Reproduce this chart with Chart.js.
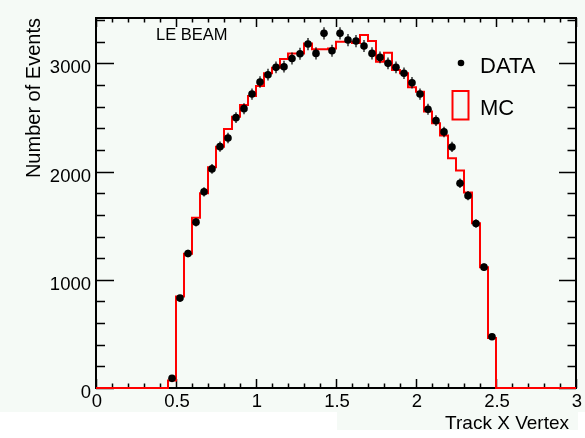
<!DOCTYPE html>
<html>
<head>
<meta charset="utf-8">
<script src="https://cdn.jsdelivr.net/npm/chart.js@4.4.1/dist/chart.umd.min.js"></script>
<style>
  html, body { margin: 0; padding: 0; background: #ffffff; }
  canvas { display: block; }
</style>
</head>
<body>
<canvas id="chart" width="585" height="438"></canvas>
<script>
// Histogram definition: 60 bins of 0.05 from 0 to 3
const binWidth = 0.05;
const nBins = 60;

// MC expectation per bin (red histogram)
const mcCounts = [
  0, 0, 0, 0, 0, 0, 0, 0, 0, 70,
  846, 1240, 1573, 1800, 2040, 2231, 2394, 2508, 2616, 2699,
  2791, 2909, 2960, 3040, 3093, 3093, 3185, 3130, 3130, 3139,
  3200, 3200, 3190, 3262, 3207, 3016, 3099, 2939, 2909, 2779,
  2739, 2555, 2447, 2333, 2124, 2010, 1806, 1523, 1117, 462,
  0, 0, 0, 0, 0, 0, 0, 0, 0, 0
];

// Measured events per bin (black points), 0 = empty bin
const dataCounts = [
  0, 0, 0, 0, 0, 0, 0, 0, 0, 89,
  831, 1243, 1533, 1813, 2025, 2231, 2311, 2499, 2582, 2717,
  2828, 2896, 2964, 2970, 3045, 3090, 3179, 3093, 3278, 3117,
  3278, 3216, 3207, 3161, 3093, 3056, 3001, 2964, 2909, 2822,
  2717, 2576, 2471, 2367, 2228, 1893, 1778, 1520, 1117, 474,
  0, 0, 0, 0, 0, 0, 0, 0, 0, 0
];

const xTickValues = [0, 0.5, 1, 1.5, 2, 2.5, 3];
const xTickLabels = ['0', '0.5', '1', '1.5', '2', '2.5', '3'];
const yTickValues = [0, 1000, 2000, 3000];
const yTickLabels = ['0', '1000', '2000', '3000'];

const FONT = '"Liberation Sans", Arial, Helvetica, sans-serif';

// MC histogram as stepped line through the low bin edges
const mcPoints = mcCounts.map((v, i) => ({ x: i * binWidth, y: v }));
mcPoints.push({ x: nBins * binWidth, y: mcCounts[nBins - 1] });

// Data points at bin centres, empty bins skipped
const dataPoints = [];
dataCounts.forEach((v, i) => {
  if (v > 0) dataPoints.push({ x: (i + 0.5) * binWidth, y: v });
});

// ROOT style frame, ticks, labels, legend
const rootStyle = {
  id: 'rootStyle',
  beforeDraw(chart) {
    const ctx = chart.ctx;
    ctx.save();
    ctx.fillStyle = '#ffffff';
    ctx.fillRect(0, 0, chart.width, chart.height);
    ctx.fillStyle = '#f5faf6';
    ctx.fillRect(0, 0, chart.width, 412);
    ctx.fillRect(337, 412, 241, 18);
    ctx.restore();
  },
  beforeDatasetsDraw(chart) {
    const ctx = chart.ctx;
    const a = chart.chartArea;
    const xs = chart.scales.x, ys = chart.scales.y;
    ctx.save();
    ctx.strokeStyle = '#000';
    ctx.lineWidth = 2;
    ctx.strokeRect(a.left, a.top, a.right - a.left, a.bottom - a.top);

    ctx.lineWidth = 1.5;
    ctx.beginPath();
    // x ticks every 0.1, major every 0.5
    for (let k = 0; k <= 30; k++) {
      const px = Math.round(xs.getPixelForValue(k * 0.1)) + 0.5;
      const major = k % 5 === 0;
      ctx.moveTo(px, a.bottom);
      ctx.lineTo(px, a.bottom - (major ? 9 : 4.5));
      ctx.moveTo(px, a.top);
      ctx.lineTo(px, a.top + (major ? 9 : 4.5));
    }
    // y ticks every 200, major every 1000
    for (let k = 0; k * 200 <= 3400; k++) {
      const py = Math.round(ys.getPixelForValue(k * 200)) + 0.5;
      const major = k % 5 === 0;
      ctx.moveTo(a.left, py);
      ctx.lineTo(a.left + (major ? 18 : 9), py);
      ctx.moveTo(a.right, py);
      ctx.lineTo(a.right - (major ? 17 : 8.5), py);
    }
    ctx.stroke();
    ctx.restore();
  },
  afterDatasetsDraw(chart) {
    const ctx = chart.ctx;
    const a = chart.chartArea;
    const xs = chart.scales.x, ys = chart.scales.y;
    ctx.save();

    // statistical error bars on the data points
    ctx.strokeStyle = '#000';
    ctx.lineWidth = 1.2;
    ctx.beginPath();
    dataPoints.forEach(p => {
      const err = Math.sqrt(p.y);
      const px = xs.getPixelForValue(p.x);
      ctx.moveTo(px, ys.getPixelForValue(p.y - err));
      ctx.lineTo(px, ys.getPixelForValue(p.y + err));
    });
    ctx.stroke();

    ctx.fillStyle = '#000';
    // tick labels
    ctx.font = '18.5px ' + FONT;
    ctx.textAlign = 'center';
    ctx.textBaseline = 'alphabetic';
    xTickValues.forEach((v, i) => {
      ctx.fillText(xTickLabels[i], xs.getPixelForValue(v) + 1, 407);
    });
    ctx.textAlign = 'right';
    yTickValues.forEach((v, i) => {
      ctx.fillText(yTickLabels[i], 91, ys.getPixelForValue(v) + 10);
    });

    // axis titles
    ctx.font = '19px ' + FONT;
    ctx.textAlign = 'right';
    ctx.fillText('Track X Vertex', 569, 429);
    ctx.save();
    ctx.translate(40, a.top);
    ctx.rotate(-Math.PI / 2);
    ctx.font = '20px ' + FONT;
    ctx.textAlign = 'right';
    ctx.fillText('Number of Events', 0, 0);
    ctx.restore();

    // label
    ctx.font = '16.5px ' + FONT;
    ctx.textAlign = 'left';
    ctx.fillText('LE BEAM', 156, 39.5);

    // legend
    ctx.beginPath();
    ctx.arc(461, 63, 3.3, 0, Math.PI * 2);
    ctx.fill();
    ctx.font = '22px ' + FONT;
    ctx.fillText('DATA', 480, 73);
    ctx.fillText('MC', 480, 115);
    ctx.strokeStyle = '#ff0000';
    ctx.lineWidth = 2;
    ctx.strokeRect(452.5, 91, 16, 28.5);

    ctx.restore();
  }
};

new Chart(document.getElementById('chart'), {
  data: {
    datasets: [{
      type: 'scatter',
      label: 'DATA',
      data: dataPoints,
      pointRadius: 3.8,
      pointHoverRadius: 3.8,
      pointBackgroundColor: '#000',
      pointBorderColor: '#000',
      pointBorderWidth: 0,
      order: 1
    }, {
      type: 'line',
      label: 'MC',
      data: mcPoints,
      stepped: 'before',
      borderColor: '#ff0000',
      borderWidth: 2,
      pointRadius: 0,
      fill: false,
      clip: false,
      order: 2
    }]
  },
  options: {
    responsive: false,
    animation: false,
    devicePixelRatio: 1,
    layout: { padding: { left: 96, right: 9, top: 18, bottom: 50 } },
    plugins: {
      legend: { display: false },
      tooltip: { enabled: false }
    },
    scales: {
      x: { type: 'linear', min: 0, max: 3, display: false },
      y: { type: 'linear', min: 0, max: 3420, display: false }
    }
  },
  plugins: [rootStyle]
});
</script>
</body>
</html>
